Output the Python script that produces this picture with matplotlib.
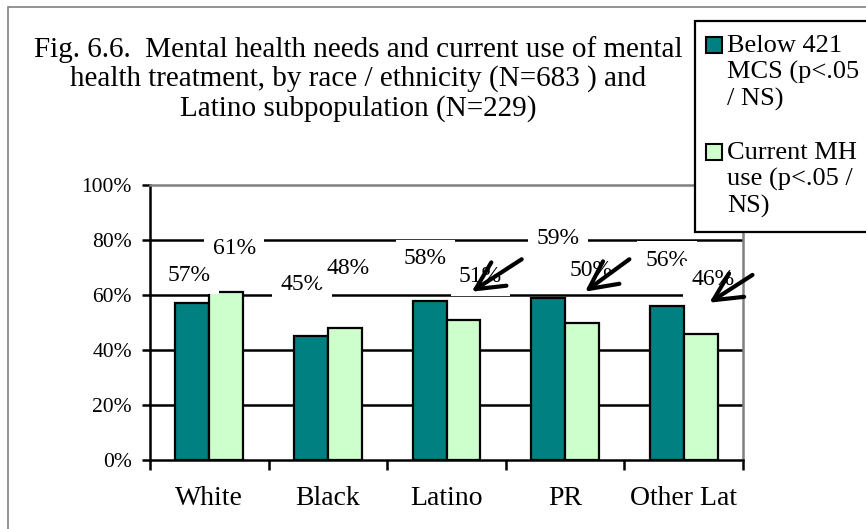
import matplotlib
matplotlib.use('Agg')
import matplotlib.pyplot as plt
from matplotlib.patches import Rectangle
import numpy as np

# ---------------- data ----------------
categories = ['White', 'Black', 'Latino', 'PR', 'Other Lat']
below_mcs = [57, 45, 58, 59, 56]
current_mh = [61, 48, 51, 50, 46]
series_names = ['Below 421\nMCS (p<.05\n/ NS)', 'Current MH\nuse (p<.05 /\nNS)']
y_ticks = [0, 20, 40, 60, 80, 100]
y_tick_labels = ['0%', '20%', '40%', '60%', '80%', '100%']
title_text = ("Fig. 6.6.  Mental health needs and current use of mental\n"
              "health treatment, by race / ethnicity (N=683 ) and\n"
              "Latino subpopulation (N=229)")

# label offsets from bar top (pixels, dx, dy-up)
below_label_offsets = [(-3, 28), (-9, 52), (-4, 42), (10, 59), (0, 46)]
current_label_offsets = [(8, 44), (3, 60), (17, 43), (9, 52), (12, 54)]
# arrows (tail -> tip) in data coordinates
arrows = [((3.134, 73.0), (2.712, 61.2)),
          ((4.042, 73.0), (3.668, 61.2)),
          ((5.08, 67.3), (4.716, 57.2))]

# ---------------- style ----------------
FONT = 'Liberation Serif'
plt.rcParams['font.family'] = [FONT, 'DejaVu Serif']
DARK = '#008080'
LIGHT = '#CCFFCC'
GRAY = '#808080'

W, H = 866, 529
fig = plt.figure(figsize=(W / 100, H / 100), dpi=100)
fig.patch.set_facecolor('white')

# outer chart border (only left/top visible)
fig.add_artist(Rectangle((8 / W, -0.1), 1.2, 1.1 - 7 / H, transform=fig.transFigure,
                         fill=False, edgecolor=GRAY, lw=1.2, zorder=0.5))

L, R, T, B = 150, 743, 185, 460
ax = fig.add_axes([L / W, 1 - B / H, (R - L) / W, (B - T) / H])
ax.set_facecolor('none')

n = len(categories)
x = np.arange(n) + 0.5
w = 1 / 3.5
ax.bar(x - w / 2, below_mcs, w, color=DARK, edgecolor='black', lw=1.6, zorder=3)
ax.bar(x + w / 2, current_mh, w, color=LIGHT, edgecolor='black', lw=1.6, zorder=3)

for v in y_ticks[1:-1]:
    ax.axhline(v, color='black', lw=1.8, zorder=1)

ax.set_xlim(0, n)
ax.set_ylim(0, 100)
ax.set_yticks(y_ticks)
ax.set_yticklabels(y_tick_labels)
ax.set_xticks(np.arange(n + 1))
ax.set_xticklabels([])
ax.set_xticks(x, minor=True)
ax.set_xticklabels(categories, minor=True)
ax.tick_params(axis='x', which='major', direction='out', length=7, width=1.8, color='black')
ax.tick_params(axis='x', which='minor', length=0, pad=19, labelsize=20)
ax.tick_params(axis='y', direction='out', length=6, width=1.8, pad=7, labelsize=15.5)

for s in ['left', 'bottom']:
    ax.spines[s].set_color('black')
    ax.spines[s].set_linewidth(1.8)
for s in ['top', 'right']:
    ax.spines[s].set_color(GRAY)
    ax.spines[s].set_linewidth(1.8)

bbox = dict(boxstyle='square,pad=0.35', fc='white', ec='none')
for i in range(n):
    dx, dy = below_label_offsets[i]
    ax.annotate(f'{below_mcs[i]}%', xy=(x[i] - w / 2, below_mcs[i]), xytext=(dx, dy),
                textcoords='offset pixels', ha='center', va='center', fontsize=17,
                bbox=bbox, zorder=4)
    dx, dy = current_label_offsets[i]
    ax.annotate(f'{current_mh[i]}%', xy=(x[i] + w / 2, current_mh[i]), xytext=(dx, dy),
                textcoords='offset pixels', ha='center', va='center', fontsize=17,
                bbox=bbox, zorder=4)

for tail, tip in arrows:
    ax.annotate('', xy=tip, xytext=tail, annotation_clip=False,
                arrowprops=dict(arrowstyle='->,head_length=1.0,head_width=0.5',
                                lw=3.0, color='black', mutation_scale=20,
                                shrinkA=0, shrinkB=0), zorder=6)

# title
fig.text(358 / W, 1 - 79 / H, title_text, ha='center', va='center',
         multialignment='center', fontsize=21, linespacing=1.13)

# legend (manual)
fig.add_artist(Rectangle((695 / W, 1 - 232 / H), 200 / W, 211 / H, transform=fig.transFigure,
                         facecolor='white', edgecolor='black', lw=1.6, zorder=5))
colors = [DARK, LIGHT]
tops = [37, 144]
for name, c, t in zip(series_names, colors, tops):
    fig.add_artist(Rectangle((706 / W, 1 - (t + 16) / H), 16 / W, 16 / H,
                             transform=fig.transFigure, facecolor=c,
                             edgecolor='black', lw=1.5, zorder=6))
    fig.text(727 / W, 1 - (t - 2) / H, name, ha='left', va='top', fontsize=19,
             linespacing=1.22, zorder=7)

fig.savefig('out.png', dpi=100)
